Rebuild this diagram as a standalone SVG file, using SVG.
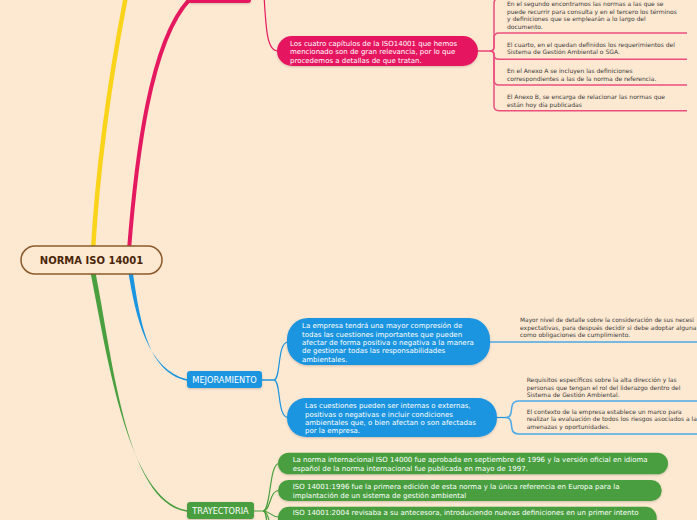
<svg xmlns="http://www.w3.org/2000/svg" width="697" height="520" viewBox="0 0 697 520">
<style>
text{font-family:"DejaVu Sans","Liberation Sans",sans-serif}
.bt{font-size:7px;fill:#fff}
.gt{font-size:7px;fill:#fff}
.it{font-size:6px;fill:#3a3a3a}
.lbl{font-size:8.2px;fill:#fff;text-anchor:middle}
.pk{fill:#e5195f}
.bl{fill:#1b95e0}
.gr{fill:#4a9f3f}
.cp{fill:none;stroke:#e5195f;stroke-width:1.2}
.cpu{fill:none;stroke:#ec4f7f;stroke-width:1.5}
.cb{fill:none;stroke:#1b95e0;stroke-width:1.2}
.cbu{fill:none;stroke:#4aa9e8;stroke-width:1.5}
.cg{fill:none;stroke:#4a9f3f;stroke-width:1.2}
</style>
<defs>
<filter id="sh" x="-10%" y="-20%" width="120%" height="160%">
<feDropShadow dx="0" dy="1" stdDeviation="1" flood-color="#000" flood-opacity="0.18"/>
</filter>
</defs>
<rect width="697" height="520" fill="#fde8d2"/>
<g id="connectors">
<path d="M93,250 Q100,130 126,-4" fill="none" stroke="#fad41a" stroke-width="4.5"/>
<path d="M129,250 C136,160 150,40 190,-1" fill="none" stroke="#e5195f" stroke-width="4"/>
<path d="M128,270 C136,320 148,369 187,379.3 L187,380.7 C147,372 140,320 132.5,270 Z" fill="#1b95e0"/>
<path d="M90,270 C108,360 128,500 187,510.3 L187,511.7 C126,503 113,360 95,270 Z" fill="#4a9f3f"/>
<path class="cp" d="M264,-5 C266,30 267,51 278,51"/>
<path class="cp" d="M478,51 L490,51"/>
<path class="cpu" d="M490,51 Q494,51 494,47 L494,4 Q494,-3 501,-3 L687,-3"/>
<path class="cpu" d="M490,51 Q494,51 494,47 L494,38 Q494,33 499,33 L687,33"/>
<path class="cpu" d="M490,51 Q494,51 494,55 Q494,59.3 499,59.3 L687,59.3"/>
<path class="cpu" d="M490,51 Q494,51 494,55 L494,80 Q494,85 499,85 L687,85"/>
<path class="cpu" d="M490,51 Q494,51 494,55 L494,106 Q494,110.7 499,110.7 L687,110.7"/>
<path class="cb" d="M262,380 L274,380 C281,380 277,342 288,342"/>
<path class="cb" d="M262,380 L274,380 C281,380 277,417.5 288,417.5"/>
<path class="cbu" d="M490,342 L697,342"/>
<path class="cb" d="M497,417.5 L506,417.5"/>
<path class="cbu" d="M506,417.5 Q510,417.5 511,413 L512,406 Q513,401 519,401 L697,401"/>
<path class="cbu" d="M506,417.5 Q510,417.5 511,422 L512,429 Q513,434 519,434 L697,434"/>
<path class="cg" d="M254,511 L263,511 C271,511 269,463.5 279,463.5"/>
<path class="cg" d="M263,511 C271,511 269,490.5 279,490.5"/>
<path class="cg" d="M263,511 C271,511 270,517 279,517"/>
<path class="cg" d="M263,511 C269,511 270,528 273,540"/>
<path class="cg" d="M263,511 C268,511 266,530 270,545"/>
</g>
<g id="n-central">
<rect x="21" y="246" width="141" height="28" rx="14" fill="#fde8d2" stroke="#8a5a2b" stroke-width="1.5"/>
<text x="91.5" y="263.7" text-anchor="middle" font-size="10" font-weight="bold" fill="#4a2608">NORMA ISO 14001</text>
</g>
<g id="n-pink-top">
<rect x="188" y="-20" width="63" height="23" rx="3" class="pk" filter="url(#sh)"/>
</g>
<g id="n-cuatro">
<rect x="277" y="36" width="201" height="30" rx="15" class="pk" filter="url(#sh)"/>
<text class="bt"><tspan x="290" y="45.8">Los cuatro capítulos de la ISO14001 que hemos</tspan><tspan x="290" y="54.3">mencionado son de gran relevancia, por lo que</tspan><tspan x="290" y="62.8">procedemos a detallas de que tratan.</tspan></text>
</g>
<g id="n-segundo">
<text class="it"><tspan x="507" y="6">En el segundo encontramos las normas a las que se</tspan><tspan x="507" y="13.6">puede recurrir para consulta y en el tercero los términos</tspan><tspan x="507" y="21.2">y definiciones que se emplearán a lo largo del</tspan><tspan x="507" y="28.8">documento.</tspan></text>
</g>
<g id="n-cuarto">
<text class="it"><tspan x="507" y="46.8">El cuarto, en el quedan definidos los requerimientos del</tspan><tspan x="507" y="54.4">Sistema de Gestión Ambiental o SGA.</tspan></text>
</g>
<g id="n-anexoA">
<text class="it"><tspan x="507" y="73">En el Anexo A se incluyen las definiciones</tspan><tspan x="507" y="80.8">correspondientes a las de la norma de referencia.</tspan></text>
</g>
<g id="n-anexoB">
<text class="it"><tspan x="507" y="99">El Anexo B, se encarga de relacionar las normas que</tspan><tspan x="507" y="106.8">están hoy día publicadas</tspan></text>
</g>
<g id="n-mejoramiento">
<rect x="187" y="371" width="75" height="17" rx="3" class="bl" filter="url(#sh)"/>
<text class="lbl" x="224.5" y="383">MEJORAMIENTO</text>
</g>
<g id="n-empresa">
<rect x="287" y="318" width="203" height="47" rx="21" class="bl" filter="url(#sh)"/>
<text class="bt"><tspan x="302" y="328.2">La empresa tendrá una mayor compresión de</tspan><tspan x="302" y="336.6">todas las cuestiones importantes que pueden</tspan><tspan x="302" y="345">afectar de forma positiva o negativa a la manera</tspan><tspan x="302" y="353.4">de gestionar todas las responsabilidades</tspan><tspan x="302" y="361.8">ambientales.</tspan></text>
</g>
<g id="n-cuestiones">
<rect x="287" y="398" width="210" height="39" rx="19" class="bl" filter="url(#sh)"/>
<text class="bt"><tspan x="305" y="408.2">Las cuestiones pueden ser internas o externas,</tspan><tspan x="305" y="416.6">positivas o negativas e incluir condiciones</tspan><tspan x="305" y="425">ambientales que, o bien afectan o son afectadas</tspan><tspan x="305" y="433.4">por la empresa.</tspan></text>
</g>
<g id="n-mayor">
<text class="it"><tspan x="520" y="322" textLength="174" lengthAdjust="spacingAndGlyphs">Mayor nivel de detalle sobre la consideración de sus necesi</tspan><tspan x="520" y="329.6">expectativas, para después decidir si debe adoptar alguna</tspan><tspan x="520" y="337.2">como obligaciones de cumplimiento.</tspan></text>
</g>
<g id="n-requisitos">
<text class="it"><tspan x="526.7" y="382">Requisitos específicos sobre la alta dirección y las</tspan><tspan x="526.7" y="389.6">personas que tengan el rol del liderazgo dentro del</tspan><tspan x="526.7" y="397.2">Sistema de Gestión Ambiental.</tspan></text>
</g>
<g id="n-contexto">
<text class="it"><tspan x="526.7" y="413.7">El contexto de la empresa establece un marco para</tspan><tspan x="526.7" y="421.3">realizar la evaluación de todos los riesgos asociados a la</tspan><tspan x="526.7" y="428.9">amenazas y oportunidades.</tspan></text>
</g>
<g id="n-trayectoria">
<rect x="187" y="502" width="67" height="17" rx="3" class="gr" filter="url(#sh)"/>
<text class="lbl" x="220.5" y="514">TRAYECTORIA</text>
</g>
<g id="n-1996">
<rect x="278" y="452.7" width="390" height="21.6" rx="10.8" class="gr" filter="url(#sh)"/>
<text class="gt"><tspan x="292.7" y="461.8">La norma internacional ISO 14000 fue aprobada en septiembre de 1996 y la versión oficial en idioma</tspan><tspan x="292.7" y="471.2">español de la norma internacional fue publicada en mayo de 1997.</tspan></text>
</g>
<g id="n-14001-1996">
<rect x="278" y="480" width="383.7" height="21" rx="10.5" class="gr" filter="url(#sh)"/>
<text class="gt"><tspan x="292.7" y="488.5">ISO 14001:1996 fue la primera edición de esta norma y la única referencia en Europa para la</tspan><tspan x="292.7" y="497.8">implantación de un sistema de gestión ambiental</tspan></text>
</g>
<g id="n-14001-2004">
<rect x="278" y="506.7" width="378.7" height="24" rx="11" class="gr" filter="url(#sh)"/>
<text class="gt"><tspan x="292.7" y="515.2">ISO 14001:2004 revisaba a su antecesora, introduciendo nuevas definiciones en un primer intento</tspan></text>
</g>
</svg>
